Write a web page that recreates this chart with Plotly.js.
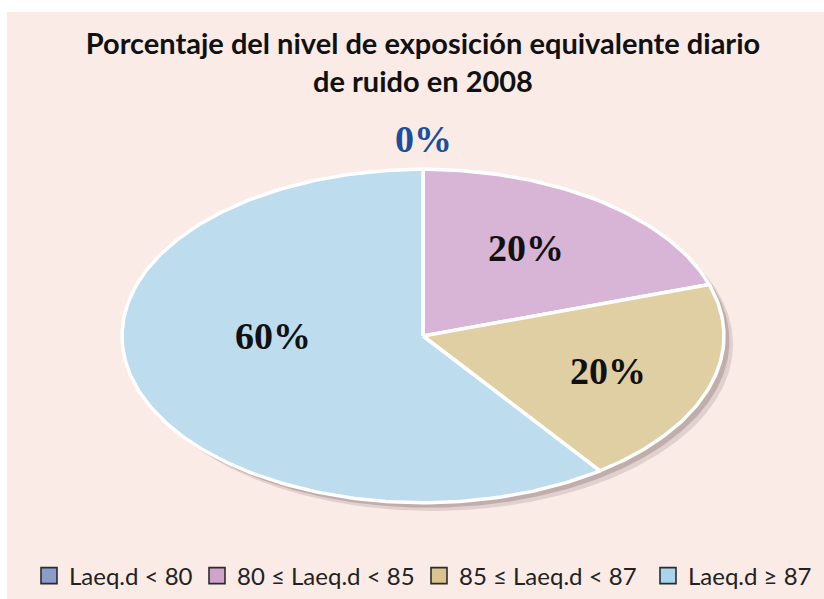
<!DOCTYPE html>
<html>
<head>
<meta charset="utf-8">
<script src="https://cdn.plot.ly/plotly-3.0.1.min.js"></script>
<style>
  html, body { margin: 0; padding: 0; background: #ffffff; }
  #chart { position: absolute; left: 7px; top: 12px; width: 817px; height: 587px; }
</style>
</head>
<body>
<div id="chart"></div>
<script>
// ---- data ----
const categories = ["Laeq.d < 80", "80 \u2264 Laeq.d < 85", "85 \u2264 Laeq.d < 87", "Laeq.d \u2265 87"];
const values = [0, 20, 20, 60];
const sliceLabels = ["0%", "20%", "20%", "60%"];

// ---- styling ----
const sliceColors = ["#8b9ccb", "#d8b4d6", "#e0cfa3", "#bddcee"];
const legendColors = ["#8b9ccb", "#cfa3cb", "#d9c48e", "#a9d4ee"];
const labelColors = ["#1a4f9a", "#111111", "#111111", "#111111"];
const labelRadius = [1.18, 0.63, 0.65, 0.5];
const labelAngleShift = [0, -3, 1, 18]; // degrees, placement tweak
const legendLeft = [22, 190, 412, 641]; // px in the chart div, one legend per entry

const total = values.reduce((a, b) => a + b, 0);
const traces = [];

function ellipsePts(a0, a1, dx, dy) {
  const xs = [], ys = [];
  const n = Math.max(2, Math.ceil(Math.abs(a1 - a0)));
  for (let i = 0; i <= n; i++) {
    const a = (a0 + (a1 - a0) * i / n) * Math.PI / 180;
    xs.push(Math.sin(a) + dx);
    ys.push(Math.cos(a) + dy);
  }
  return [xs, ys];
}

// shadow
[[0.03, -0.05, 'rgba(110,90,90,0.18)'], [0.018, -0.03, 'rgba(90,70,70,0.25)']].forEach(s => {
  const [xs, ys] = ellipsePts(0, 360, s[0], s[1]);
  traces.push({ type: 'scatter', mode: 'lines', x: xs, y: ys, fill: 'toself',
    fillcolor: s[2], line: { width: 0, color: 'rgba(0,0,0,0)' }, hoverinfo: 'skip', showlegend: false });
});

const annotations = [];
let cum = 0;
values.forEach((v, i) => {
  const a0 = cum / total * 360;
  const a1 = (cum + v) / total * 360;
  cum += v;
  const [ax, ay] = ellipsePts(a0, a1, 0, 0);
  const xs = [0].concat(ax, [0]);
  const ys = [0].concat(ay, [0]);
  traces.push({ type: 'scatter', mode: 'lines', x: xs, y: ys, fill: 'toself',
    fillcolor: sliceColors[i], line: { color: '#ffffff', width: 3.5 },
    name: categories[i], hoverinfo: 'name', showlegend: false });
  const mid = ((a0 + a1) / 2 + labelAngleShift[i]) * Math.PI / 180;
  annotations.push({
    x: labelRadius[i] * Math.sin(mid), y: labelRadius[i] * Math.cos(mid),
    xref: 'x', yref: 'y', text: sliceLabels[i], showarrow: false,
    font: { family: 'Liberation Serif, Times New Roman, serif', size: 38, color: labelColors[i], weight: 'bold' },
    xanchor: 'center', yanchor: 'middle'
  });
});

// plot area: center at page (423,336) -> div (416,324); x unit 301px, y unit 167px
const xr = [-1.05, 1.05];
const yr = [-1.05, 1.32];
const plotH = (yr[1] - yr[0]) * 167;
const plotTop = 324 - yr[1] * 167;
const plotW = (xr[1] - xr[0]) * 301;
const plotLeft = 416 + xr[0] * 301;

const layout = {
  width: 817, height: 587,
  paper_bgcolor: '#fbebe7', plot_bgcolor: 'rgba(0,0,0,0)',
  margin: { l: plotLeft, r: 817 - plotLeft - plotW, t: plotTop, b: 587 - plotTop - plotH, pad: 0, autoexpand: false },
  title: {
    text: '<b>Porcentaje del nivel de exposición equivalente diario<br>de ruido en 2008</b>',
    x: 416 / 817, xref: 'container', xanchor: 'center',
    y: 1 - 42 / 587, yref: 'container', yanchor: 'middle',
    font: { family: 'Lato, Open Sans, sans-serif', size: 29, color: '#111111' }
  },
  xaxis: { range: xr, visible: false, fixedrange: true },
  yaxis: { range: yr, visible: false, fixedrange: true },
  showlegend: true,
  annotations: annotations
};

// legend entries, one legend each so they sit on one row
categories.forEach((c, i) => {
  const key = i === 0 ? 'legend' : 'legend' + (i + 1);
  traces.push({ type: 'scatter', mode: 'markers', x: [null], y: [null], name: c, legend: key,
    marker: { symbol: 'square', size: 19, color: legendColors[i], line: { color: '#2b2b2b', width: 1.6 } },
    showlegend: true, hoverinfo: 'skip' });
  layout[key] = {
    orientation: 'h', xref: 'container', x: legendLeft[i] / 817, xanchor: 'left',
    yref: 'container', y: 1 - 564 / 587, yanchor: 'middle',
    font: { family: 'Lato, Open Sans, sans-serif', size: 24, color: '#222222' },
    bgcolor: 'rgba(0,0,0,0)', itemwidth: 30
  };
});

Plotly.newPlot('chart', traces, layout, { displayModeBar: false, staticPlot: true });
</script>
</body>
</html>
